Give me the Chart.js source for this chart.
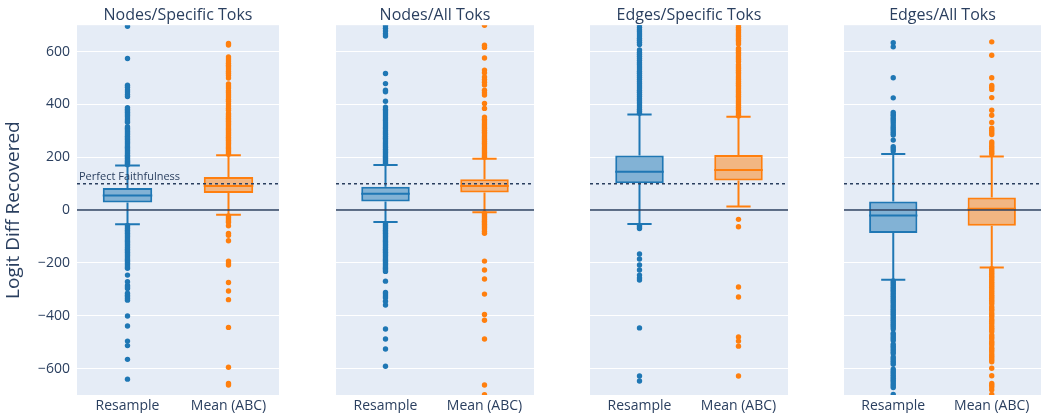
<!DOCTYPE html>
<html>
<head>
<meta charset="utf-8">
<script src="https://cdn.jsdelivr.net/npm/chart.js@4.4.1/dist/chart.umd.min.js"></script>
<style>
  body { margin: 0; background: #fff; }
  #wrap { position: relative; width: 1045px; height: 413px; }
  .panel { position: absolute; top: 0; height: 413px; }
</style>
</head>
<body>
<div id="wrap">
  <div class="panel" style="left:0;width:283px"><canvas id="c0"></canvas></div>
  <div class="panel" style="left:332px;width:206px"><canvas id="c1"></canvas></div>
  <div class="panel" style="left:586px;width:206px"><canvas id="c2"></canvas></div>
  <div class="panel" style="left:840px;width:205px"><canvas id="c3"></canvas></div>
</div>
<script>
const panelTitles = ['Nodes/Specific Toks', 'Nodes/All Toks', 'Edges/Specific Toks', 'Edges/All Toks'];
const categories = ['Resample', 'Mean (ABC)'];
const yTicks = [-600, -400, -200, 0, 200, 400, 600];

// box stats per panel
const resampleLow = [-54, -45, -53, -264];
const resampleQ1 = [29, 33, 102, -87];
const resampleMedian = [55, 62, 145, -20];
const resampleQ3 = [84, 88, 207, 33];
const resampleHigh = [169, 171, 362, 212];

const meanLow = [-18, -8, 14, -217];
const meanQ1 = [65, 67, 112, -59];
const meanMedian = [91, 91, 152, 5];
const meanQ3 = [125, 117, 209, 48];
const meanHigh = [208, 194, 353, 203];

// outliers
const nodesSpecResample = [696, 574, 473, 465, 455, 447, 438, 430, 388, 382, 376, 370, 364, 358, 352, 345, 338, 333,
  316, 310, 304, 298, 292, 286, 280, 274, 268, 262, 256, 250, 244, 238, 232, 226, 220, 214, 208, 203, 198, 193, 188,
  184, 180, 176, 172,
  -58, -64, -70, -76, -82, -88, -94, -100, -106, -112, -118, -124, -130, -136, -142, -148, -154, -160, -166, -172,
  -178, -184, -190, -196, -202, -208, -214, -220, -246, -271, -285, -291, -297, -315, -322, -328, -335, -341, -401,
  -439, -496, -513, -565, -640];
const nodesSpecMean = [631, 625, 580, 572, 564, 556, 548, 542, 534, 526, 518, 510, 500, 478, 470, 462, 452, 444, 436,
  428, 420, 412, 402, 394, 386, 378, 366, 360, 354, 348, 342, 336, 330, 324, 318, 312, 306, 300, 294, 288, 282, 276,
  270, 264, 258, 252, 246, 240, 234, 228, 222, 216, 211,
  -22, -28, -34, -40, -46, -59, -88, -95, -116, -193, -200, -208, -274, -306, -339, -444, -595, -656, -662];
const nodesAllResample = [698, 688, 678, 668, 659, 517, 479, 454, 448, 412, 390, 382, 375, 368, 360, 352, 345, 338,
  330, 322, 315, 308, 300, 293, 286, 279, 272, 265, 258, 251, 244, 237, 230, 224, 218, 212, 206, 200, 194, 188, 182, 176,
  -52, -58, -64, -70, -76, -82, -88, -94, -100, -106, -112, -118, -124, -130, -136, -142, -148, -154, -160, -166, -172,
  -178, -184, -190, -196, -202, -208, -214, -220, -226, -232, -269, -312, -318, -325, -332, -345, -359, -450, -488,
  -526, -591];
const nodesAllMean = [700, 624, 616, 576, 530, 520, 504, 494, 484, 474, 454, 444, 436, 404, 385, 352, 344, 337, 330,
  323, 316, 309, 302, 295, 288, 281, 274, 267, 260, 253, 246, 239, 232, 225, 218, 212, 206, 200,
  -12, -18, -24, -30, -36, -42, -48, -54, -60, -66, -72, -80, -88, -193, -227, -261, -318, -395, -417, -488, -662, -699];
const edgesSpecResample = [699, 691, 683, 675, 667, 659, 651, 643, 635, 627, 606, 598, 590, 582, 574, 566, 558, 550,
  542, 534, 526, 518, 510, 502, 494, 486, 478, 470, 462, 454, 446, 438, 430, 422, 414, 406, 398, 390, 382, 374, 367,
  -58, -64, -70, -166, -185, -208, -227, -246, -257, -265, -446, -628, -647];
const edgesSpecMean = [699, 692, 685, 678, 671, 664, 657, 650, 643, 636, 629, 612, 605, 598, 591, 584, 577, 570, 563,
  550, 543, 536, 529, 522, 515, 508, 501, 494, 487, 480, 473, 466, 459, 452, 445, 438, 431, 424, 417, 410, 403, 396,
  389, 382, 375, 368, 361, 356,
  -35, -63, -291, -329, -480, -496, -515, -628];
const edgesAllResample = [634, 618, 501, 425, 370, 362, 356, 348, 340, 332, 322, 314, 306, 298, 290, 284, 265, 240,
  232, 224,
  -268, -275, -282, -289, -296, -303, -310, -317, -324, -331, -338, -345, -352, -359, -366, -373, -380, -387, -394,
  -401, -408, -415, -422, -429, -436, -443, -450, -466, -473, -480, -487, -494, -508, -515, -522, -529, -536, -543,
  -556, -563, -570, -577, -584, -602, -609, -616, -623, -630, -637, -644, -651, -658, -665, -672, -698];
const edgesAllMean = [637, 586, 501, 472, 465, 457, 426, 378, 359, 332, 310, 302, 294, 286, 258, 250, 242, 234, 226,
  218, 212,
  -222, -229, -236, -243, -250, -257, -264, -271, -278, -285, -292, -299, -306, -313, -320, -327, -334, -341, -348,
  -355, -366, -373, -380, -390, -397, -404, -414, -421, -428, -438, -445, -452, -460, -473, -480, -487, -497, -504,
  -511, -521, -528, -535, -545, -552, -559, -567, -574, -599, -627, -656, -663, -670, -680, -698];

const resampleOutliers = [nodesSpecResample, nodesAllResample, edgesSpecResample, edgesAllResample];
const meanOutliers = [nodesSpecMean, nodesAllMean, edgesSpecMean, edgesAllMean];

const BLUE = '#1f77b4';
const ORANGE = '#ff7f0e';
const INK = '#2a3f5f';
const FONT = "'Open Sans', 'DejaVu Sans', sans-serif";

const boxExtras = {
  id: 'boxExtras',
  beforeDraw(chart) {
    const { ctx, chartArea: a } = chart;
    ctx.save();
    ctx.fillStyle = '#e5ecf6';
    ctx.fillRect(a.left, a.top, a.right - a.left, a.bottom - a.top);
    ctx.restore();
  },
  afterDatasetsDraw(chart, args, opts) {
    const { ctx, chartArea: a, scales: { y } } = chart;
    const i = opts.panel;
    const boxes = [
      { lo: resampleLow[i], med: resampleMedian[i], hi: resampleHigh[i], q1: resampleQ1[i], q3: resampleQ3[i], color: BLUE },
      { lo: meanLow[i], med: meanMedian[i], hi: meanHigh[i], q1: meanQ1[i], q3: meanQ3[i], color: ORANGE }
    ];
    const meta = chart.getDatasetMeta(2);
    ctx.save();
    ctx.lineWidth = 2;
    boxes.forEach((b, k) => {
      const bar = meta.data[k];
      const cx = bar.x, half = bar.width / 2;
      ctx.strokeStyle = b.color;
      ctx.beginPath();
      ctx.moveTo(cx - half, y.getPixelForValue(b.med));
      ctx.lineTo(cx + half, y.getPixelForValue(b.med));
      ctx.moveTo(cx, y.getPixelForValue(b.q3));
      ctx.lineTo(cx, y.getPixelForValue(b.hi));
      ctx.moveTo(cx, y.getPixelForValue(b.q1));
      ctx.lineTo(cx, y.getPixelForValue(b.lo));
      ctx.moveTo(cx - half / 2, y.getPixelForValue(b.hi));
      ctx.lineTo(cx + half / 2, y.getPixelForValue(b.hi));
      ctx.moveTo(cx - half / 2, y.getPixelForValue(b.lo));
      ctx.lineTo(cx + half / 2, y.getPixelForValue(b.lo));
      ctx.stroke();
    });

    // zero line and perfect faithfulness line
    ctx.strokeStyle = INK;
    ctx.lineWidth = 1.5;
    const y0 = y.getPixelForValue(0);
    ctx.beginPath();
    ctx.moveTo(a.left, y0);
    ctx.lineTo(a.right, y0);
    ctx.stroke();
    const y100 = y.getPixelForValue(100);
    ctx.setLineDash([3, 3]);
    ctx.beginPath();
    ctx.moveTo(a.left, y100);
    ctx.lineTo(a.right, y100);
    ctx.stroke();
    ctx.setLineDash([]);
    if (opts.label) {
      ctx.fillStyle = INK;
      ctx.font = '11px ' + FONT;
      ctx.textBaseline = 'bottom';
      ctx.fillText(opts.label, a.left + 2, y100 - 1);
    }
    ctx.restore();
  }
};

function makePanel(i) {
  const first = i === 0;
  new Chart(document.getElementById('c' + i), {
    type: 'bar',
    data: {
      labels: categories,
      datasets: [
        {
          type: 'scatter',
          data: resampleOutliers[i].map(v => ({ x: categories[0], y: v })),
          backgroundColor: BLUE,
          borderWidth: 0,
          pointRadius: 2.7
        },
        {
          type: 'scatter',
          data: meanOutliers[i].map(v => ({ x: categories[1], y: v })),
          backgroundColor: ORANGE,
          borderWidth: 0,
          pointRadius: 2.7
        },
        {
          type: 'bar',
          data: [[resampleQ1[i], resampleQ3[i]], [meanQ1[i], meanQ3[i]]],
          backgroundColor: ['rgba(31,119,180,0.5)', 'rgba(255,127,14,0.5)'],
          borderColor: [BLUE, ORANGE],
          borderWidth: 2,
          borderSkipped: false,
          barPercentage: 0.49,
          categoryPercentage: 1
        }
      ]
    },
    options: {
      responsive: true,
      maintainAspectRatio: false,
      animation: false,
      layout: { padding: 0 },
      plugins: {
        legend: { display: false },
        tooltip: { enabled: false },
        title: {
          display: true,
          fullSize: false,
          text: panelTitles[i],
          color: INK,
          font: { family: FONT, size: 16, weight: 'normal', lineHeight: 1.2 },
          padding: { top: 6, bottom: 0 }
        },
        boxExtras: { panel: i, label: first ? 'Perfect Faithfulness' : '' }
      },
      scales: {
        x: {
          grid: { display: false, drawTicks: false },
          border: { display: false },
          ticks: { color: INK, font: { family: FONT, size: 14 }, padding: 3 },
          afterFit: s => { s.height = 18; }
        },
        y: {
          min: -700,
          max: 700,
          afterBuildTicks: s => { s.ticks = yTicks.map(v => ({ value: v })); },
          afterFit: s => { s.width = first ? 77 : 0; },
          grid: { color: '#ffffff', lineWidth: 1, drawTicks: false },
          border: { display: false },
          ticks: {
            display: first,
            color: INK,
            font: { family: FONT, size: 14 },
            padding: 7,
            callback: v => String(v).replace('-', '\u2212')
          },
          title: {
            display: first,
            text: 'Logit Diff Recovered',
            color: INK,
            font: { family: FONT, size: 19 },
            padding: { top: 2, bottom: 0 }
          }
        }
      }
    },
    plugins: [boxExtras]
  });
}

[0, 1, 2, 3].forEach(makePanel);
</script>
</body>
</html>
